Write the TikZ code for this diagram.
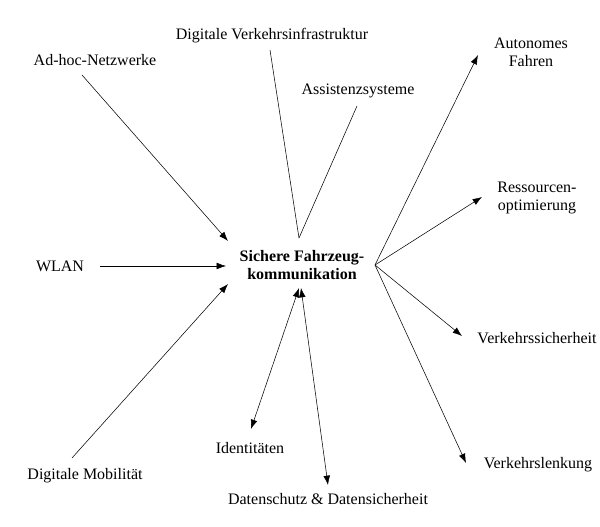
\documentclass[tikz,border=0pt]{standalone}
\usepackage{fontspec}
\setmainfont{Liberation Serif}
\usetikzlibrary{arrows.meta}
\begin{document}
\begin{tikzpicture}[x=0.75pt,y=-0.75pt,font=\fontsize{12}{13.5}\selectfont,
    every node/.style={align=center, inner sep=1pt},
    arr/.style={draw, -{Latex[length=7pt,width=5pt]}},
    darr/.style={draw, {Latex[length=7pt,width=5pt]}-{Latex[length=7pt,width=5pt]}}]
    \useasboundingbox (0,0) rectangle (600,527);

    \node[font=\fontsize{12}{13.5}\selectfont\bfseries] (center) at (302,265) {Sichere Fahrzeug-\\kommunikation};

    \begin{scope}
        \node (adhoc) at (95,60) {Ad-hoc-Netzwerke};
        \node (infra) at (272,36) {Digitale Verkehrsinfrastruktur};
        \node (assist) at (358,91) {Assistenzsysteme};
        \node (wlan) at (60,266) {WLAN};
        \node (mobil) at (85,476) {Digitale Mobilität};
        \node (ident) at (250,448) {Identitäten};
        \node (daten) at (328,499) {Datenschutz \& Datensicherheit};
        \node (auto) at (531,52) {Autonomes\\Fahren};
        \node (ress) at (537,198) {Ressourcen-\\optimierung};
        \node (vsich) at (537,338) {Verkehrssicherheit};
        \node (vlenk) at (538,465) {Verkehrslenkung};
    \end{scope}

    \coordinate (top) at (299,238);
    \coordinate (hub) at (375,265);

    \path [arr] (82,75) -- (228,241);
    \path [arr] (100,266) -- (226,266);
    \path [arr] (72,458) -- (228,284);
    \path [draw] (270,50) -- (top);
    \path [draw] (357,106) -- (top);
    \path [darr] (251,429) -- (299,288);
    \path [darr] (328,485) -- (301,288);
    \path [arr] (hub) -- (478,55);
    \path [arr] (hub) -- (482,197);
    \path [arr] (hub) -- (462,336);
    \path [arr] (hub) -- (466,463);
\end{tikzpicture}
\end{document}
